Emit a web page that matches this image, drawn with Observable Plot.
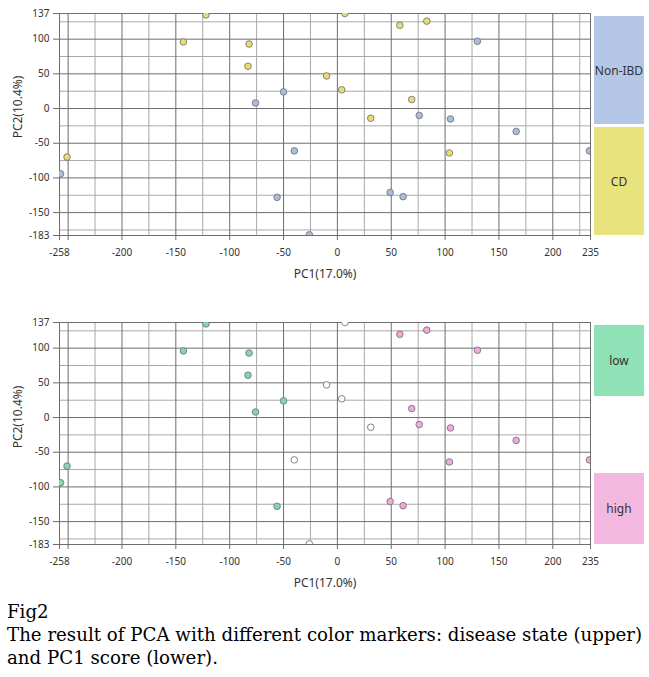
<!DOCTYPE html>
<html>
<head>
<meta charset="utf-8">
<script src="https://cdn.jsdelivr.net/npm/d3@7"></script>
<script src="https://cdn.jsdelivr.net/npm/@observablehq/plot@0.6"></script>
<style>
  html, body { margin: 0; padding: 0; background: #fff; }
  #root { position: relative; width: 649px; height: 677px; overflow: hidden; }
  .panel { position: absolute; left: 0; }
  .lg { position: absolute; left: 594px; width: 50px; display: flex; align-items: center; justify-content: center;
        font-family: "Noto Sans", sans-serif; font-size: 12px; color: #333; }
  .ytitle { position: absolute; left: 17px; transform: translate(-50%, -50%) rotate(-90deg);
            font-family: "Noto Sans", sans-serif; font-size: 12px; color: #333; white-space: nowrap; }
  #caption { position: absolute; left: 7px; top: 600px; font-family: "DejaVu Serif", serif; font-size: 18.2px;
             line-height: 23px; color: #000; white-space: nowrap; }
</style>
</head>
<body>
<div id="root">
  <div id="top" class="panel" style="top:0px"></div>
  <div id="bottom" class="panel" style="top:309px"></div>
  <div class="ytitle" id="yt1" style="top:107px"></div>
  <div class="ytitle" id="yt2" style="top:417px"></div>
  <div class="lg" style="top:16px;height:108px;background:#B4C7E7">Non-IBD</div>
  <div class="lg" style="top:127px;height:108px;background:#E9E37E">CD</div>
  <div class="lg" style="top:325px;height:71px;background:#8EE2B6">low</div>
  <div class="lg" style="top:473px;height:71px;background:#F3B8E0">high</div>
  <div id="caption">Fig2<br>The result of PCA with different color markers: disease state (upper)<br>and PC1 score (lower).</div>
</div>
<script>
// ---- data ----
const pc1 = [-251, -143, -122, -82, -83, -10, -257, -76, -50, -40, -56, -26, 7, 58, 83, 4, 69, 31, 104, 130, 76, 105, 166, 234, 49, 61];
const pc2 = [-70, 96, 135, 93, 61, 47, -94, 8, 24, -61, -128, -182, 137, 120, 126, 27, 13, -14, -64, 97, -10, -15, -33, -61, -121, -127];
const disease = ["CD","CD","CD","CD","CD","CD","Non-IBD","Non-IBD","Non-IBD","Non-IBD","Non-IBD","Non-IBD","CD","CD","CD","CD","CD","CD","CD","Non-IBD","Non-IBD","Non-IBD","Non-IBD","Non-IBD","Non-IBD","Non-IBD"];
const scoreGroup = ["low","low","low","low","low","mid","low","low","low","mid","low","mid","mid","high","high","mid","high","mid","high","high","high","high","high","high","high","high"];

const diseaseDomain = ["Non-IBD", "CD"];
const diseaseColors = ["#A9BCE0", "#E8DE6E"];
const scoreDomain = ["low", "mid", "high"];
const scoreColors = ["#7FD9AD", "#FFFFFF", "#F0A9D9"];

const xDomain = [-258, 235];
const yDomain = [-183, 137];
const xMajor = [-250, -200, -150, -100, -50, 0, 50, 100, 150, 200];
const xMinor = [-225, -175, -125, -75, -25, 25, 75, 125, 175, 225];
const yMajor = [-150, -100, -50, 0, 50, 100];
const yMinor = [-175, -125, -75, -25, 25, 75, 125];
const xTickLabels = [-258, -200, -150, -100, -50, 0, 50, 100, 150, 200, 235];
const xTickMarks = [-258, -250, -200, -150, -100, -50, 0, 50, 100, 150, 200, 235];
const yTickLabels = [-183, -150, -100, -50, 0, 50, 100, 137];
const xTitle = "PC1(17.0%)";
const yTitle = "PC2(10.4%)";

const rows = pc1.map((v, i) => ({pc1: v, pc2: pc2[i], disease: disease[i], score: scoreGroup[i]}));

const DARK = "#6e6e6e", LIGHT = "#a9a9a9";

function panel(field, domain, range) {
  return Plot.plot({
    width: 649, height: 290,
    marginLeft: 59, marginRight: 59, marginTop: 13, marginBottom: 55,
    x: {domain: xDomain},
    y: {domain: yDomain},
    color: {domain, range},
    style: {fontFamily: "'Noto Sans', sans-serif", fontSize: "10px", color: "#333", background: "transparent"},
    marks: [
      Plot.ruleX(xMinor, {stroke: LIGHT, strokeWidth: 1}),
      Plot.ruleY(yMinor, {stroke: LIGHT, strokeWidth: 1}),
      Plot.ruleX(xMajor, {stroke: DARK, strokeWidth: 1}),
      Plot.ruleY(yMajor, {stroke: DARK, strokeWidth: 1}),
      Plot.frame({stroke: DARK, strokeWidth: 1}),
      Plot.axisX({ticks: xTickMarks, tickSize: 5, stroke: DARK, tickFormat: () => "", label: null}),
      Plot.axisX({ticks: xTickLabels, tickSize: 0, tickPadding: 13, tickFormat: d => String(d), label: null, fill: "#333"}),
      Plot.axisY({ticks: yTickLabels, tickSize: 6, tickPadding: 4, stroke: DARK, tickFormat: d => String(d), label: null, fill: "#333"}),
      Plot.text([xTitle], {frameAnchor: "bottom", dy: 39, fontSize: 12, fill: "#333", lineAnchor: "middle"}),
      Plot.dot(rows, {x: "pc1", y: "pc2", r: 3.3, fill: field, stroke: "#777", strokeWidth: 0.9, clip: true})
    ]
  });
}

document.getElementById("top").append(panel("disease", diseaseDomain, diseaseColors));
document.getElementById("bottom").append(panel("score", scoreDomain, scoreColors));
document.getElementById("yt1").textContent = yTitle;
document.getElementById("yt2").textContent = yTitle;
</script>
</body>
</html>
